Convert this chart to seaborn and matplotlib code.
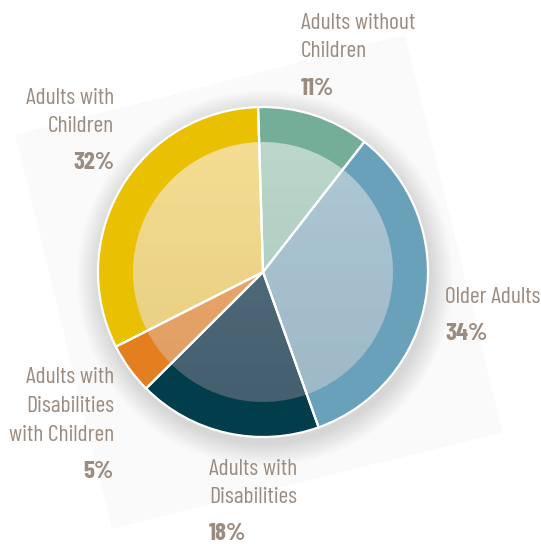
import numpy as np
import matplotlib
matplotlib.use('Agg')
import matplotlib.pyplot as plt
import seaborn as sns
from matplotlib.patches import Polygon, Circle

# ---- data ----
categories = ["Adults without\nChildren", "Older Adults", "Adults with\nDisabilities",
              "Adults with\nDisabilities\nwith Children", "Adults with\nChildren"]
shares = [11, 34, 18, 5, 32]
pct_labels = ["11%", "34%", "18%", "5%", "32%"]
outer_colors = ["#75AE98", "#6AA1BA", "#023D4B", "#E37F1F", "#E9C102"]
inner_colors = ["#B4D2C5", "#A6C2D1", "#486474", "#ECA566", "#F2D886"]

sns.set_theme(style="white")
plt.rcParams['font.family'] = ['Barlow Condensed', 'DejaVu Sans']

W, H = 541, 544
fig = plt.figure(figsize=(W / 100, H / 100), dpi=100)
ax = fig.add_axes([0, 0, 1, 1])


def Y(y):
    return H - y


cx, cy = 263, Y(272)
R_OUT, R_IN = 165, 130

# rotated background square
sq = [(15, 135), (405, 35), (503, 432), (112, 529)]
ax.add_patch(Polygon([(x, Y(y)) for x, y in sq], closed=True,
                     facecolor="#FAFAFA", edgecolor="none", zorder=0))

# soft drop shadow
for i in range(18):
    ax.add_patch(Circle((cx + 2, cy - 6), R_OUT + 1 + i * 1.3, facecolor="black",
                        edgecolor="none", alpha=0.006, zorder=1))

start = 91.7
ax.pie(shares, colors=outer_colors, radius=R_OUT, center=(cx, cy),
       startangle=start, counterclock=False,
       wedgeprops=dict(linewidth=0, zorder=3))
ax.pie(shares, colors=inner_colors, radius=R_IN, center=(cx, cy),
       startangle=start, counterclock=False,
       wedgeprops=dict(linewidth=0, zorder=4))

# vertical shading on the inner disc
t = np.linspace(0, 1, 200)[:, None]
white = np.zeros((200, 1, 4))
white[..., :3] = 1.0
white[..., 3] = 0.10 * (1 - t)
black = np.zeros((200, 1, 4))
black[..., 3] = 0.05 * t
ext = (cx - R_IN, cx + R_IN, cy - R_IN, cy + R_IN)
for arr in (white, black):
    im = ax.imshow(arr, extent=ext, origin='upper', aspect='auto',
                   interpolation='bilinear', zorder=5)
    im.set_clip_path(Circle((cx, cy), R_IN, transform=ax.transData))

ax.pie(shares, colors=['none'] * 5, radius=R_OUT, center=(cx, cy),
       startangle=start, counterclock=False,
       wedgeprops=dict(fill=False, edgecolor='white', linewidth=1.6, zorder=6))

# ---- labels ----
tcol = "#9A8C80"
fs = 17
fs_pct = 18
label_pos = [
    (301, [29, 57], 95, 'left'),
    (445, [303], 340, 'left'),
    (209, [475, 503], 540, 'left'),
    (114, [383, 412, 441], 478, 'right'),
    (114, [104, 132], 169, 'right'),
]
for cat, pct, (x, lines_y, py, ha) in zip(categories, pct_labels, label_pos):
    for line, ly in zip(cat.split("\n"), lines_y):
        ax.text(x, Y(ly), line, ha=ha, va='baseline', fontsize=fs, color=tcol, zorder=10)
    ax.text(x, Y(py), pct, ha=ha, va='baseline', fontsize=fs_pct, fontweight='bold',
            color=tcol, zorder=10)

ax.set_xlim(0, W)
ax.set_ylim(0, H)
ax.set_aspect('equal')
ax.axis('off')
fig.savefig("out.png", dpi=100, facecolor="white")
